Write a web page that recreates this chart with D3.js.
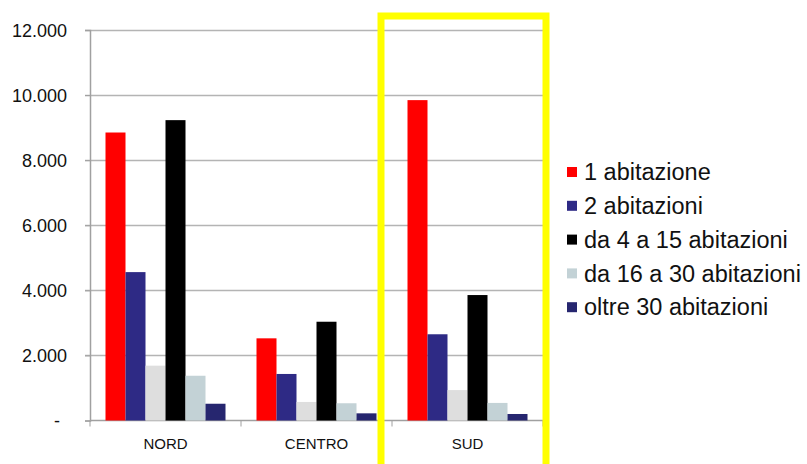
<!DOCTYPE html>
<html>
<head>
<meta charset="utf-8">
<script src="https://cdn.jsdelivr.net/npm/d3@7"></script>
<style>
  body { margin: 0; background: #fff; }
  text { font-family: "Liberation Sans", Arial, sans-serif; }
</style>
</head>
<body>
<script>
// data
const categories = ["NORD", "CENTRO", "SUD"];
const seriesNames = ["1 abitazione", "2 abitazioni", "3 abitazioni",
                     "da 4 a 15 abitazioni", "da 16 a 30 abitazioni", "oltre 30 abitazioni"];
const s1 = [8850, 2525, 9845];
const s2 = [4560, 1430, 2650];
const s3 = [1685, 570, 935];
const s4 = [9230, 3035, 3855];
const s5 = [1375, 530, 540];
const s6 = [515, 220, 200];
const yTicks = [0, 2000, 4000, 6000, 8000, 10000, 12000];
const legendNames = ["1 abitazione", "2 abitazioni", "da 4 a 15 abitazioni",
                     "da 16 a 30 abitazioni", "oltre 30 abitazioni"];

const colors = ["#ff0000", "#2e2a85", "#dedede", "#000000", "#c3d2d6", "#26266f"];
const allSeries = [s1, s2, s3, s4, s5, s6];

let svg = null;
let x0, x1, y = null;

const W = 807, H = 464;
const plot = {left: 90, right: 543, top: 30, bottom: 420.5};

appendSvg("body");
setupScales();
appendGrid();
appendAxes();
appendBars();
appendHighlight();
appendLegend();

function appendSvg(el) {
  svg = d3.select(el).append("svg")
    .attr("width", W)
    .attr("height", H);
}

function setupScales() {
  x0 = d3.scaleBand().domain(categories).range([plot.left, plot.right]);
  // six bars inside each group, with empty space on both sides
  x1 = d3.scaleBand().domain(d3.range(seriesNames.length))
    .range([0, x0.bandwidth()])
    .paddingInner(0)
    .paddingOuter(0.775);
  y = d3.scaleLinear().domain([0, 12000]).range([plot.bottom, plot.top]);
}

function appendGrid() {
  svg.append("g")
    .selectAll("line")
    .data(yTicks.filter(d => d > 0))
    .enter().append("line")
    .attr("x1", plot.left - 5)
    .attr("x2", plot.right)
    .attr("y1", d => Math.round(y(d)) + 0.5)
    .attr("y2", d => Math.round(y(d)) + 0.5)
    .style("stroke", "#b4b4b4")
    .style("stroke-width", 1.5);
}

function appendAxes() {
  const loc = d3.formatLocale({decimal: ",", thousands: ".", grouping: [3], currency: ["", ""]});
  const fmt = loc.format(",d");

  const yAxis = svg.append("g")
    .attr("transform", `translate(${plot.left},0)`)
    .call(d3.axisLeft(y).tickValues(yTicks).tickSize(5).tickPadding(18)
      .tickFormat(d => d === 0 ? "-" : fmt(d)));
  yAxis.select(".domain").style("stroke", "#a0a0a0").style("stroke-width", 1.5);
  yAxis.selectAll(".tick line").style("stroke", "#a0a0a0");
  yAxis.selectAll("text")
    .style("font-size", "18px")
    .style("fill", "#111")
    .attr("dy", "0.35em");
  yAxis.selectAll(".tick").filter(d => d === 0).select("text").attr("x", -30);

  const xAxis = svg.append("g")
    .attr("transform", `translate(0,${plot.bottom})`);
  xAxis.append("line")
    .attr("x1", plot.left).attr("x2", plot.right)
    .style("stroke", "#a0a0a0").style("stroke-width", 1.5);
  const bounds = categories.map(c => x0(c)).concat([plot.right]);
  xAxis.selectAll(".sep")
    .data(bounds)
    .enter().append("line")
    .attr("x1", d => d).attr("x2", d => d)
    .attr("y1", 0).attr("y2", 6)
    .style("stroke", "#a0a0a0");
  xAxis.selectAll(".cat")
    .data(categories)
    .enter().append("text")
    .attr("x", d => x0(d) + x0.bandwidth() / 2)
    .attr("y", 28)
    .attr("text-anchor", "middle")
    .style("font-size", "15px")
    .style("fill", "#111")
    .text(d => d);
}

function appendBars() {
  categories.forEach(function(cat, ci) {
    svg.append("g")
      .attr("transform", `translate(${x0(cat)},0)`)
      .selectAll("rect")
      .data(allSeries.map((s, si) => ({si: si, v: s[ci]})))
      .enter().append("rect")
      .attr("x", d => x1(d.si))
      .attr("width", x1.bandwidth())
      .attr("y", d => y(d.v))
      .attr("height", d => plot.bottom - y(d.v))
      .style("fill", d => colors[d.si]);
  });
}

function appendHighlight() {
  svg.append("rect")
    .attr("x", x0("SUD") - 11)
    .attr("y", 16)
    .attr("width", x0.bandwidth() + 14)
    .attr("height", 470)
    .style("fill", "none")
    .style("stroke", "#ffff00")
    .style("stroke-width", 7);
}

function appendLegend() {
  const legend = svg.selectAll(".legend")
    .data(legendNames)
    .enter().append("g")
    .attr("class", "legend")
    .attr("transform", (d, i) => `translate(567,${172 + i * 33.8})`);
  legend.append("rect")
    .attr("x", 0).attr("y", -5)
    .attr("width", 10).attr("height", 10)
    .style("fill", d => colors[seriesNames.indexOf(d)]);
  legend.append("text")
    .attr("x", 17)
    .attr("y", 0)
    .attr("dy", "0.35em")
    .style("font-size", "23.5px")
    .style("fill", "#111")
    .text(d => d);
}
</script>
</body>
</html>
